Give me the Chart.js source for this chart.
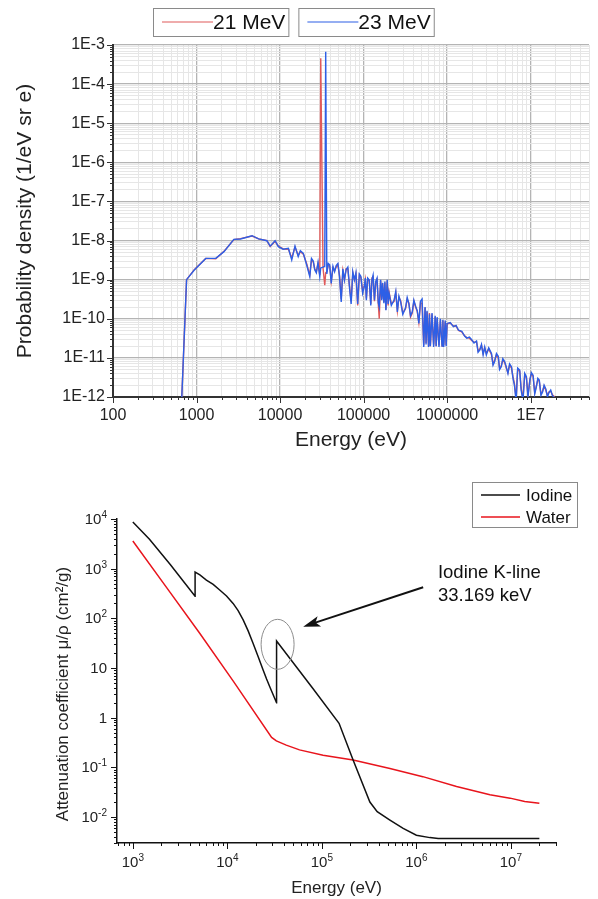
<!DOCTYPE html>
<html>
<head>
<meta charset="utf-8">
<script src="https://cdn.jsdelivr.net/npm/chart.js@4.4.1/dist/chart.umd.min.js"></script>
<style>
  html, body { margin: 0; padding: 0; background: #fff; }
  #wrap { position: relative; width: 598px; height: 899px; }
  canvas { position: absolute; left: 0; }
  #spectrum { top: 0; }
  #attenuation { top: 460px; }
</style>
</head>
<body>
<div id="wrap">
  <canvas id="spectrum" width="598" height="455"></canvas>
  <canvas id="attenuation" width="598" height="439"></canvas>
</div>
<script>
// ---- top chart: photon spectra for 21 / 23 MeV beams ----
const specEnergy = [
  665, 760, 940, 1290, 1700, 2130, 2800, 3360, 4620, 5540, 6960, 7620, 8720, 9550, 10900,
  12600, 13800, 15100, 16500, 17500, 19000, 20800, 22700, 23800, 25000, 26000, 27200, 28500, 29900, 30700, 32700, 34300, 35200,
  36300, 37800, 39300, 41000, 43000, 45000, 47000, 49300, 51500, 54000, 56500, 59000, 61800, 64800, 68000, 71000, 74300, 77700, 81000, 85000, 89000, 93000, 97500,
  102000, 105000, 108000, 112000, 117000, 122000, 126000, 130000, 135000, 140000, 145000, 150000, 154000, 160000, 165000, 169000, 175000, 180000, 185000, 192000, 197000, 202000,
  215000, 232000, 243000, 254000, 265000, 278000, 295000, 318000, 333000, 349000, 365000, 383000, 400000, 420000, 440000, 459000, 480000,
  502000, 525000, 545000, 560000, 575000, 600000, 615000, 630000, 660000, 690000, 720000, 740000, 760000, 800000, 830000, 870000, 890000, 910000, 950000, 975000, 1000000,
  1090000, 1190000, 1280000, 1370000, 1500000, 1620000, 1720000, 1850000, 1970000,
  2100000, 2250000, 2350000, 2470000, 2580000, 2700000, 2820000, 2950000, 3150000, 3400000, 3550000, 3700000, 3900000, 4100000, 4250000, 4450000, 4650000, 4900000,
  5100000, 5350000, 5600000, 5900000, 6150000, 6400000, 6700000, 7000000, 7400000, 7700000, 8100000, 8500000, 8900000, 9300000, 9800000, 10200000,
  10700000, 11200000, 11700000, 12200000, 12700000, 13300000, 13900000, 14500000, 15200000, 15900000, 16600000, 17400000, 18200000, 19000000, 19500000
];
const spec21 = [
  9e-13, 1.0e-9, 1.8e-9, 3.5e-9, 3.4e-9, 5.3e-9, 1.06e-8, 1.12e-8, 1.3e-8, 1.1e-8, 1.0e-8, 7.0e-9, 9.6e-9, 7.2e-9, 6.1e-9,
  6.0e-9, 3.6e-9, 6.8e-9, 4.2e-9, 5.2e-9, 4.5e-9, 2.6e-9, 1.3e-9, 3.2e-9, 2.8e-9, 1.9e-9, 1.6e-9, 2.6e-9, 1.3e-9, 4.6e-4, 2.0e-9, 7.2e-10, 1.5e-9,
  1.6e-9, 2.4e-9, 2.2e-9, 9.0e-10, 2.0e-9, 1.7e-9, 2.1e-9, 2.4e-9, 1.3e-9, 3.2e-10, 1.7e-9, 1.0e-9, 1.9e-9, 1.9e-9, 6.5e-10, 2.8e-10, 1.5e-9, 1.0e-9, 1.4e-9, 2.2e-10, 1.3e-9, 1.1e-9, 5.0e-10,
  7.0e-10, 1.0e-9, 3.3e-10, 1.0e-9, 9.5e-10, 2.4e-10, 1.1e-9, 1.2e-9, 2.8e-10, 8.5e-10, 1.0e-9, 2.4e-10, 1.0e-10, 9.5e-10, 3.2e-10, 8.0e-10, 2.7e-10, 8.5e-10, 1.7e-10, 9.5e-10, 2.2e-10, 4.8e-10,
  2.4e-10, 2.8e-10, 4.6e-10, 1.6e-10, 3.5e-10, 2.9e-10, 1.4e-10, 1.8e-10, 3.2e-10, 2.5e-10, 1.1e-10, 1.4e-10, 2.8e-10, 2.0e-10, 1.5e-10, 8.0e-11, 2.6e-10,
  2.4e-10, 2.1e-11, 1.9e-10, 2.4e-11, 1.5e-10, 2.0e-11, 1.4e-10, 2.0e-11, 1.3e-10, 2.2e-11, 1.1e-10, 2.0e-11, 1.0e-10, 2.1e-11, 9.0e-11, 2.0e-11, 9.0e-11, 2.1e-11, 8.5e-11, 2.1e-11, 7.4e-11,
  7.8e-11, 6.5e-11, 6.6e-11, 5.0e-11, 4.6e-11, 3.7e-11, 3.3e-11, 3.2e-11, 2.8e-11,
  2.5e-11, 2.6e-11, 1.5e-11, 1.7e-11, 2.1e-11, 1.3e-11, 1.8e-11, 1.3e-11, 1.7e-11, 1.2e-11, 7.0e-12, 8.5e-12, 1.2e-11, 1.0e-11, 5.5e-12, 6.2e-12, 9.0e-12, 7.5e-12,
  5.6e-12, 4.2e-12, 6.5e-12, 5.5e-12, 3.3e-12, 2.2e-12, 9e-13, 5.0e-12, 4.6e-12, 1.7e-12, 9e-13, 3.7e-12, 3.1e-12, 1.1e-12, 2.8e-12, 3.9e-12,
  3.4e-12, 1.3e-12, 1.9e-12, 2.8e-12, 2.5e-12, 1.2e-12, 1.4e-12, 1.9e-12, 1.5e-12, 1.1e-12, 1.35e-12, 1.4e-12, 1.15e-12, 1.05e-12, 9e-13
];
const spec23 = [
  9e-13, 1.0e-9, 1.76e-9, 3.5e-9, 3.5e-9, 5.2e-9, 1.07e-8, 1.1e-8, 1.33e-8, 1.1e-8, 9.9e-9, 7.2e-9, 9.9e-9, 7.0e-9, 6.0e-9,
  6.3e-9, 3.2e-9, 7.2e-9, 3.9e-9, 5.5e-9, 4.7e-9, 2.4e-9, 1.2e-9, 3.5e-9, 3.0e-9, 1.8e-9, 1.5e-9, 2.8e-9, 1.2e-9, 2.0e-9, 2.1e-9, 2.2e-9, 6.7e-4,
  1.4e-9, 2.6e-9, 2.4e-9, 8.0e-10, 2.2e-9, 1.6e-9, 2.3e-9, 2.6e-9, 1.2e-9, 2.7e-10, 1.9e-9, 9.8e-10, 1.8e-9, 2.1e-9, 6.0e-10, 2.4e-10, 1.6e-9, 9.8e-10, 1.5e-9, 2.4e-10, 1.4e-9, 1.2e-9, 4.5e-10,
  6.6e-10, 1.1e-9, 3.0e-10, 1.1e-9, 9.8e-10, 2.2e-10, 1.0e-9, 1.3e-9, 3.0e-10, 9.0e-10, 1.1e-9, 2.6e-10, 2.0e-10, 1.0e-9, 3.0e-10, 8.3e-10, 2.5e-10, 9.0e-10, 1.65e-10, 1.0e-9, 2.4e-10, 4.5e-10,
  2.2e-10, 3.0e-10, 5.0e-10, 1.5e-10, 3.8e-10, 2.7e-10, 1.3e-10, 1.9e-10, 3.5e-10, 2.4e-10, 1.2e-10, 1.5e-10, 3.0e-10, 2.1e-10, 1.6e-10, 7.6e-11, 2.8e-10,
  3.2e-10, 1.9e-11, 2.0e-10, 2.2e-11, 1.6e-10, 1.9e-11, 1.3e-10, 2.0e-11, 1.4e-10, 1.9e-11, 1.2e-10, 2.0e-11, 1.1e-10, 1.9e-11, 1.0e-10, 2.0e-11, 9.5e-11, 1.9e-11, 9.0e-11, 2.0e-11, 7.6e-11,
  8.0e-11, 6.3e-11, 6.8e-11, 5.1e-11, 4.8e-11, 3.6e-11, 3.2e-11, 3.4e-11, 2.9e-11,
  2.4e-11, 2.7e-11, 1.4e-11, 1.6e-11, 2.2e-11, 1.2e-11, 1.9e-11, 1.2e-11, 1.8e-11, 1.3e-11, 6.5e-12, 7.9e-12, 1.3e-11, 1.1e-11, 5.0e-12, 5.9e-12, 9.5e-12, 7.9e-12,
  6.0e-12, 4.0e-12, 7.0e-12, 5.9e-12, 3.0e-12, 2.0e-12, 8e-13, 5.5e-12, 4.9e-12, 1.5e-12, 8e-13, 4.0e-12, 3.3e-12, 1.0e-12, 2.7e-12, 4.2e-12,
  3.6e-12, 1.2e-12, 1.8e-12, 3.0e-12, 2.7e-12, 1.1e-12, 1.35e-12, 2.0e-12, 1.6e-12, 1.0e-12, 1.3e-12, 1.5e-12, 1.1e-12, 1.0e-12, 8e-13
];
const specXDecades = [100, 1000, 1e4, 1e5, 1e6, 1e7];
const specXLabels = ['100', '1000', '10000', '100000', '1000000', '1E7'];
const specYDecades = [1e-12, 1e-11, 1e-10, 1e-9, 1e-8, 1e-7, 1e-6, 1e-5, 1e-4, 1e-3];
const specYLabels = ['1E-12', '1E-11', '1E-10', '1E-9', '1E-8', '1E-7', '1E-6', '1E-5', '1E-4', '1E-3'];

// ---- bottom chart: mass attenuation coefficients ----
const iodineE = [1000, 1500, 2500, 4557, 4558, 5120, 6000, 7080, 8300, 9800,
  11500, 13000, 14700, 16600, 18700, 21200, 23900, 26000, 28100, 33169,
  33170, 80000, 152000, 214000, 322000, 385000, 525000, 725000, 1000000, 1390000,
  1700000, 20000000];
const iodineMu = [8700, 3900, 1200, 278, 850, 747, 590, 484, 372, 282,
  200, 143, 93, 56, 31.6, 16.9, 9.1, 6.0, 4.2, 2.0,
  35, 3.9, 0.77, 0.14, 0.020, 0.0128, 0.0087, 0.0059, 0.0043, 0.00385,
  0.0037, 0.0037];
const waterE = [1000, 2270, 5100, 11500, 29400, 33000, 42000, 58000, 103000, 214000,
  525000, 1170000, 2660000, 6000000, 9800000, 14000000, 20000000];
const waterMu = [3600, 420, 50, 5.5, 0.40, 0.34, 0.28, 0.225, 0.175, 0.14,
  0.095, 0.065, 0.041, 0.028, 0.024, 0.0205, 0.019];
const attnXDecades = [1e3, 1e4, 1e5, 1e6, 1e7];
const attnXLabels = ['10^3', '10^4', '10^5', '10^6', '10^7'];
const attnYDecades = [0.01, 0.1, 1, 10, 100, 1000, 10000];
const attnYLabels = ['10^-2', '10^-1', '1', '10', '10^2', '10^3', '10^4'];

// annotation anchors, in data units (energy eV, mu/rho)
const noteCircle = [34000, 30];
const noteArrowFrom = [1.18e6, 422];
const noteArrowTo = [63400, 68];
const noteTextAt = [1.69e6, 650];
const noteLines = ['Iodine K-line', '33.169 keV'];

const FONT = '"Liberation Sans", Arial, Helvetica, sans-serif';
Chart.defaults.font.family = FONT;
Chart.defaults.color = '#222';

function isDecade(v) {
  const l = Math.log10(v);
  return Math.abs(l - Math.round(l)) < 1e-6;
}

// 1..9 x 10^n ticks between min and max
function logTicks(min, max) {
  const out = [];
  for (let e = Math.floor(Math.log10(min)); e <= Math.ceil(Math.log10(max)); e++) {
    for (let m = 1; m < 10; m++) {
      const v = m * Math.pow(10, e);
      if (v >= min * 0.9999 && v <= max * 1.0001) out.push({ value: v });
    }
  }
  return out;
}

function labelOf(decades, labels) {
  return v => {
    const i = decades.findIndex(d => Math.abs(d - v) / d < 1e-6);
    return i >= 0 ? labels[i] : '';
  };
}

function pts(xs, ys) {
  return xs.map((x, i) => ({ x: x, y: ys[i] }));
}

// small/large tick marks drawn outside the plot
const tickMarks = {
  id: 'tickMarks',
  afterDraw(chart, args, o) {
    const ctx = chart.ctx;
    ctx.save();
    ctx.strokeStyle = o.color;
    ctx.lineWidth = 1;
    ctx.beginPath();
    ['x', 'y'].forEach(id => {
      const s = chart.scales[id];
      s.ticks.forEach(t => {
        const len = isDecade(t.value) ? o.major : o.minor;
        const p = Math.round(s.getPixelForValue(t.value)) + 0.5;
        if (id === 'x') {
          ctx.moveTo(p, s.top);
          ctx.lineTo(p, s.top + len);
        } else {
          ctx.moveTo(s.right, p);
          ctx.lineTo(s.right - len, p);
        }
      });
    });
    ctx.stroke();
    ctx.restore();
  }
};

// "10" with a raised exponent, for the bottom chart's tick labels
const powerLabels = {
  id: 'powerLabels',
  afterDraw(chart, args, o) {
    const ctx = chart.ctx;
    const big = o.size + 'px ' + FONT, small = o.supSize + 'px ' + FONT;
    ctx.save();
    ctx.fillStyle = '#222';
    ctx.textBaseline = 'alphabetic';
    ctx.textAlign = 'left';
    const draw = (label, x, base, align) => {
      const [b, e] = label.split('^');
      ctx.font = big;
      const bw = ctx.measureText(b).width;
      ctx.font = small;
      const ew = e ? ctx.measureText(e).width : 0;
      const left = align === 'right' ? x - bw - ew : x - (bw + ew) / 2;
      ctx.font = big;
      ctx.fillText(b, left, base);
      if (e) {
        ctx.font = small;
        ctx.fillText(e, left + bw, base - o.rise);
      }
    };
    const sx = chart.scales.x, sy = chart.scales.y;
    attnXDecades.forEach((v, i) => draw(attnXLabels[i], sx.getPixelForValue(v), sx.top + o.xBase, 'center'));
    attnYDecades.forEach((v, i) => draw(attnYLabels[i], sy.right - o.yGap, sy.getPixelForValue(v) + o.yBase, 'right'));
    ctx.restore();
  }
};

// rotated axis title placed freely
const sideTitle = {
  id: 'sideTitle',
  afterDraw(chart, args, o) {
    const ctx = chart.ctx;
    ctx.save();
    ctx.translate(o.x, o.y);
    ctx.rotate(-Math.PI / 2);
    ctx.font = o.font;
    ctx.fillStyle = '#222';
    ctx.textAlign = 'center';
    ctx.textBaseline = 'middle';
    ctx.fillText(o.text, 0, 0);
    ctx.restore();
  }
};

// legend with a framed box per series (top chart)
const boxLegend = {
  id: 'boxLegend',
  afterDraw(chart, args, o) {
    const ctx = chart.ctx;
    ctx.save();
    ctx.font = o.font;
    let x = o.x;
    chart.data.datasets.forEach(ds => {
      const tw = ctx.measureText(ds.label).width;
      const w = o.padL + o.lineLen + tw + o.padR;
      ctx.strokeStyle = '#8a8a8a';
      ctx.lineWidth = 1;
      ctx.strokeRect(x + 0.5, o.y + 0.5, w, o.h);
      ctx.strokeStyle = ds.borderColor;
      ctx.lineWidth = 1.2;
      ctx.beginPath();
      ctx.moveTo(x + o.padL, o.y + o.h / 2);
      ctx.lineTo(x + o.padL + o.lineLen, o.y + o.h / 2);
      ctx.stroke();
      ctx.fillStyle = '#111';
      ctx.textBaseline = 'middle';
      ctx.fillText(ds.label, x + o.padL + o.lineLen, o.y + o.h / 2 + 1);
      x += w + o.gap;
    });
    ctx.restore();
  }
};

// stacked legend in one frame (bottom chart)
const stackLegend = {
  id: 'stackLegend',
  afterDraw(chart, args, o) {
    const ctx = chart.ctx;
    ctx.save();
    ctx.strokeStyle = '#8a8a8a';
    ctx.lineWidth = 1;
    ctx.strokeRect(o.x + 0.5, o.y + 0.5, o.w, o.h);
    ctx.font = o.font;
    ctx.textBaseline = 'middle';
    chart.data.datasets.forEach((ds, i) => {
      const cy = o.y + o.row0 + i * o.rowH;
      ctx.strokeStyle = ds.borderColor;
      ctx.lineWidth = 1.5;
      ctx.beginPath();
      ctx.moveTo(o.x + 9, cy);
      ctx.lineTo(o.x + 48, cy);
      ctx.stroke();
      ctx.fillStyle = '#111';
      ctx.fillText(ds.label, o.x + 54, cy + 1);
    });
    ctx.restore();
  }
};

// K-edge circle, arrow and note
const kLineNote = {
  id: 'kLineNote',
  afterDatasetsDraw(chart) {
    const { ctx, scales: { x, y } } = chart;
    ctx.save();
    const cx = x.getPixelForValue(noteCircle[0]);
    const cy = y.getPixelForValue(noteCircle[1]);
    ctx.strokeStyle = '#8c8c8c';
    ctx.lineWidth = 1;
    ctx.beginPath();
    ctx.ellipse(cx, cy, 16.5, 25, 0, 0, 2 * Math.PI);
    ctx.stroke();

    const x0 = x.getPixelForValue(noteArrowFrom[0]), y0 = y.getPixelForValue(noteArrowFrom[1]);
    const x1 = x.getPixelForValue(noteArrowTo[0]), y1 = y.getPixelForValue(noteArrowTo[1]);
    const a = Math.atan2(y1 - y0, x1 - x0);
    const c = Math.cos(a), s = Math.sin(a);
    ctx.strokeStyle = '#111';
    ctx.fillStyle = '#111';
    ctx.lineWidth = 2;
    ctx.beginPath();
    ctx.moveTo(x0, y0);
    ctx.lineTo(x1 - 12 * c, y1 - 12 * s);
    ctx.stroke();
    ctx.beginPath();
    ctx.moveTo(x1, y1);
    ctx.lineTo(x1 - 17 * c + 5.5 * s, y1 - 17 * s - 5.5 * c);
    ctx.lineTo(x1 - 13 * c, y1 - 13 * s);
    ctx.lineTo(x1 - 17 * c - 5.5 * s, y1 - 17 * s + 5.5 * c);
    ctx.closePath();
    ctx.fill();

    const tx = x.getPixelForValue(noteTextAt[0]);
    const ty = y.getPixelForValue(noteTextAt[1]);
    ctx.font = '18.5px ' + FONT;
    ctx.textBaseline = 'alphabetic';
    noteLines.forEach((t, i) => ctx.fillText(t, tx, ty + i * 23));
    ctx.restore();
  }
};

new Chart(document.getElementById('spectrum'), {
  type: 'line',
  data: {
    datasets: [
      { label: '21 MeV', data: pts(specEnergy, spec21), borderColor: '#e05a5a',
        borderWidth: 1.4, pointRadius: 0, tension: 0, order: 1 },
      { label: '23 MeV', data: pts(specEnergy, spec23), borderColor: '#2d5fe6',
        borderWidth: 1.4, pointRadius: 0, tension: 0, order: 0 }
    ]
  },
  options: {
    responsive: false,
    animation: false,
    layout: { padding: { top: 45, right: 6, left: 0, bottom: 2 } },
    plugins: {
      legend: { display: false },
      tooltip: { enabled: false },
      tickMarks: { color: '#333', major: 6, minor: 3 },
      boxLegend: { x: 153, y: 8, h: 28, padL: 9, lineLen: 51, padR: 3, gap: 10, font: '21px ' + FONT }
    },
    scales: {
      x: {
        type: 'logarithmic', min: 100, max: 5e7,
        afterBuildTicks: s => { s.ticks = logTicks(s.min, s.max); },
        afterFit: s => { s.height = 56; },
        grid: {
          drawTicks: false,
          color: c => (c.tick && isDecade(c.tick.value)) ? '#b4b4b4' : '#e6e6e6',
          lineWidth: c => (c.tick && isDecade(c.tick.value)) ? 1.3 : 1
        },
        border: { display: true, color: '#333', width: 2 },
        ticks: { autoSkip: false, maxRotation: 0, padding: 9, font: { size: 16 },
          callback: labelOf(specXDecades, specXLabels) },
        title: { display: true, text: 'Energy (eV)', font: { size: 21 }, padding: { top: 0, bottom: 0 } }
      },
      y: {
        type: 'logarithmic', min: 1e-12, max: 1e-3,
        afterBuildTicks: s => { s.ticks = logTicks(s.min, s.max); },
        afterFit: s => { s.width = 113; },
        grid: {
          drawTicks: false,
          color: c => (c.tick && isDecade(c.tick.value)) ? '#b4b4b4' : '#e6e6e6',
          lineWidth: c => (c.tick && isDecade(c.tick.value)) ? 1.3 : 1
        },
        border: { display: true, color: '#333', width: 2 },
        ticks: { autoSkip: false, padding: 8, font: { size: 16 },
          callback: labelOf(specYDecades, specYLabels) },
        title: { display: true, text: 'Probability density (1/eV sr e)', font: { size: 21 },
          padding: { top: 12.4, bottom: 0 } }
      }
    }
  },
  plugins: [tickMarks, boxLegend]
});

new Chart(document.getElementById('attenuation'), {
  type: 'line',
  data: {
    datasets: [
      { label: 'Iodine', data: pts(iodineE, iodineMu), borderColor: '#111111',
        borderWidth: 1.5, pointRadius: 0, tension: 0 },
      { label: 'Water', data: pts(waterE, waterMu), borderColor: '#e8141c',
        borderWidth: 1.5, pointRadius: 0, tension: 0 }
    ]
  },
  options: {
    responsive: false,
    animation: false,
    layout: { padding: { top: 59, right: 42, left: 0, bottom: 0 } },
    plugins: {
      legend: { display: false },
      tooltip: { enabled: false },
      tickMarks: { color: '#111', major: 6, minor: 3 },
      powerLabels: { size: 15, supSize: 10, rise: 6, xBase: 24, yGap: 10, yBase: 5 },
      sideTitle: { text: 'Attenuation coefficient μ/ρ (cm²/g)', x: 63, y: 234, font: '17px ' + FONT },
      stackLegend: { x: 472, y: 22, w: 105, h: 45, row0: 13, rowH: 22, font: '17px ' + FONT }
    },
    scales: {
      x: {
        type: 'logarithmic', min: 680, max: 3e7,
        afterBuildTicks: s => { s.ticks = logTicks(s.min, s.max); },
        afterFit: s => { s.height = 56; },
        grid: { display: false, drawTicks: false },
        border: { display: true, color: '#111', width: 1.5 },
        ticks: { display: false },
        title: { display: true, text: 'Energy (eV)', font: { size: 17 }, padding: { top: 0, bottom: 0.8 } }
      },
      y: {
        type: 'logarithmic', min: 0.003, max: 1e4,
        afterBuildTicks: s => { s.ticks = logTicks(s.min, s.max); },
        afterFit: s => { s.width = 117; },
        grid: { display: false, drawTicks: false },
        border: { display: true, color: '#111', width: 1.5 },
        ticks: { display: false }
      }
    }
  },
  plugins: [tickMarks, powerLabels, sideTitle, stackLegend, kLineNote]
});
</script>
</body>
</html>
